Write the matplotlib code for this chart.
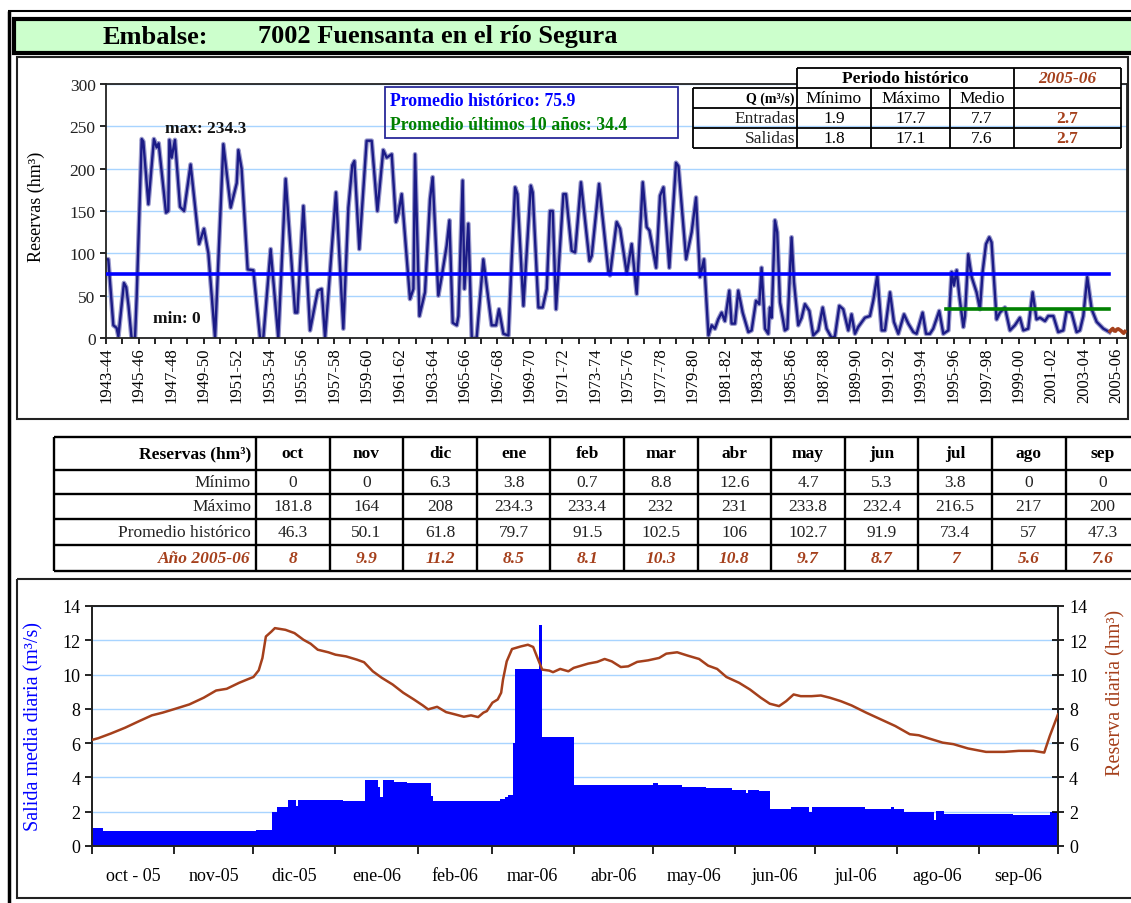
import numpy as np
import matplotlib
matplotlib.use("Agg")
import matplotlib.pyplot as plt
from matplotlib.patches import Rectangle
import matplotlib.patheffects as pe

plt.rcParams['font.family'] = ['Liberation Serif', 'DejaVu Serif']

# ---------------- data ----------------
title_prefix = "Embalse:"
title_name = "7002 Fuensanta en el río Segura"

hist_years = [1943.00, 1943.14, 1943.45, 1943.65, 1943.76, 1944.10, 1944.24, 1944.38, 1944.57, 1944.78,
              1944.88, 1945.19, 1945.29, 1945.60, 1945.94, 1946.11, 1946.23, 1946.68, 1946.82, 1946.89,
              1947.03, 1947.23, 1947.54, 1947.79, 1948.19, 1948.71, 1949.01, 1949.28, 1949.69, 1950.20,
              1950.65, 1951.02, 1951.12, 1951.32, 1951.69, 1952.04, 1952.45, 1952.65, 1953.10, 1953.57,
              1954.02, 1954.60, 1954.74, 1955.11, 1955.52, 1955.99, 1956.23, 1956.44, 1957.11, 1957.56,
              1957.87, 1958.11, 1958.24, 1958.54, 1958.99, 1959.30, 1959.65, 1960.01, 1960.22, 1960.53,
              1960.79, 1960.93, 1961.14, 1961.65, 1961.86, 1961.96, 1962.23, 1962.57, 1962.88, 1963.04,
              1963.39, 1963.60, 1963.90, 1964.07, 1964.27, 1964.52, 1964.62, 1964.88, 1964.99, 1965.23,
              1965.44, 1965.74, 1966.15, 1966.66, 1966.93, 1967.11, 1967.38, 1967.69, 1967.89, 1968.10,
              1968.24, 1968.61, 1969.06, 1969.18, 1969.53, 1969.79, 1970.04, 1970.24, 1970.41, 1970.61,
              1971.06, 1971.22, 1971.57, 1971.78, 1972.14, 1972.66, 1972.80, 1973.25, 1973.82, 1973.92,
              1974.33, 1974.54, 1974.95, 1975.25, 1975.56, 1975.93, 1976.17, 1976.34, 1976.75, 1976.99,
              1977.20, 1977.56, 1977.97, 1978.12, 1978.59, 1978.93, 1979.20, 1979.44, 1979.69, 1979.96,
              1980.16, 1980.36, 1980.56, 1980.77, 1980.97, 1981.24, 1981.38, 1981.59, 1981.79, 1982.06,
              1982.41, 1982.61, 1982.88, 1983.08, 1983.22, 1983.43, 1983.63, 1983.73, 1983.84, 1984.04,
              1984.18, 1984.35, 1984.65, 1984.80, 1985.06, 1985.21, 1985.47, 1985.68, 1985.88, 1986.15,
              1986.39, 1986.70, 1986.97, 1987.21, 1987.52, 1987.72, 1987.99, 1988.23, 1988.54, 1988.74,
              1988.95, 1989.15, 1989.56, 1989.87, 1990.07, 1990.32, 1990.59, 1990.79, 1991.10, 1991.34,
              1991.61, 1991.96, 1992.22, 1992.53, 1992.73, 1993.10, 1993.31, 1993.55, 1993.75, 1994.12,
              1994.37, 1994.68, 1994.88, 1995.02, 1995.19, 1995.35, 1995.60, 1995.70, 1995.90, 1996.11,
              1996.41, 1996.62, 1996.78, 1996.99, 1997.19, 1997.33, 1997.64, 1997.84, 1998.15, 1998.46,
              1998.76, 1999.07, 1999.28, 1999.58, 1999.85, 2000.09, 2000.30, 2000.61, 2000.81, 2001.12,
              2001.42, 2001.73, 2001.93, 2002.24, 2002.55, 2002.75, 2002.96, 2003.20, 2003.47, 2003.78,
              2004.19, 2004.56]
hist_reserves = [93, 93, 15, 12, 2, 65, 60, 38, 0, 0,
                 48, 235, 232, 158, 235, 225, 230, 148, 150, 234,
                 213, 234, 155, 150, 205, 111, 129, 100, 0, 229,
                 154, 183, 222, 200, 81, 80, 0, 0, 105, 0,
                 188, 30, 30, 156, 9, 56, 58, 0, 172, 11,
                 154, 204, 209, 105, 233, 233, 150, 222, 213, 217,
                 137, 146, 170, 46, 58, 217, 26, 54, 164, 190,
                 50, 73, 109, 139, 18, 15, 26, 186, 58, 135,
                 0, 0, 93, 15, 15, 34, 5, 3, 93, 178,
                 170, 38, 180, 172, 36, 36, 58, 150, 150, 34,
                 170, 170, 103, 101, 184, 91, 97, 182, 78, 74,
                 137, 129, 76, 111, 52, 184, 131, 127, 83, 168,
                 178, 83, 207, 203, 93, 125, 166, 72, 93, 3,
                 15, 11, 22, 30, 20, 56, 17, 17, 56, 30,
                 7, 9, 44, 40, 83, 11, 5, 36, 24, 139,
                 125, 42, 9, 11, 119, 66, 15, 24, 40, 32,
                 3, 9, 36, 11, 0, 2, 38, 34, 9, 28,
                 5, 13, 24, 26, 44, 74, 9, 9, 54, 19,
                 5, 28, 17, 7, 5, 30, 5, 5, 11, 32,
                 5, 9, 78, 62, 80, 50, 13, 26, 99, 72,
                 54, 34, 78, 111, 119, 113, 22, 30, 36, 9,
                 15, 24, 9, 11, 54, 22, 24, 20, 26, 26,
                 7, 9, 32, 30, 7, 9, 26, 72, 34, 19,
                 11, 7]
hist_mean = 75.9
last10_mean = 34.4
record_max = 234.3
record_min = 0
season_label = "2005-06"
season_monthly = [8, 9.9, 11.2, 8.5, 8.1, 10.3, 10.8, 9.7, 8.7, 7, 5.6, 7.6]
axis_years = list(range(1943, 2006))

flow_cols = ["Mínimo", "Máximo", "Medio"]
flow_rows = ["Entradas", "Salidas"]
flow_hist = [[1.9, 17.7, 7.7], [1.8, 17.1, 7.6]]
flow_season = [2.7, 2.7]

months = ["oct", "nov", "dic", "ene", "feb", "mar", "abr", "may", "jun", "jul", "ago", "sep"]
row_names = ["Mínimo", "Máximo", "Promedio histórico", "Año 2005-06"]
res_min = [0, 0, 6.3, 3.8, 0.7, 8.8, 12.6, 4.7, 5.3, 3.8, 0, 0]
res_max = [181.8, 164, 208, 234.3, 233.4, 232, 231, 233.8, 232.4, 216.5, 217, 200]
res_mean = [46.3, 50.1, 61.8, 79.7, 91.5, 102.5, 106, 102.7, 91.9, 73.4, 57, 47.3]
res_season = season_monthly

month_days = [31, 30, 31, 31, 28, 31, 30, 31, 30, 31, 31, 30]
month_labels = ["oct - 05", "nov-05", "dic-05", "ene-06", "feb-06", "mar-06",
                "abr-06", "may-06", "jun-06", "jul-06", "ago-06", "sep-06"]
outflow_run_start = [0, 4, 62, 68, 70, 74, 77, 78, 95, 103,
                     108, 109, 110, 114, 119, 128, 129, 154, 156, 157,
                     159, 160, 169, 170, 182, 212, 214, 223, 232, 242,
                     247, 248, 252, 256, 264, 271, 272, 292, 302, 303,
                     307, 318, 319, 322, 348, 362]
outflow_run_value = [1.05, 0.85, 0.95, 2.0, 2.3, 2.7, 2.35, 2.7, 2.62, 3.85,
                     3.45, 2.85, 3.85, 3.75, 3.65, 2.9, 2.62, 2.75, 2.85, 3.0,
                     6.0, 10.3, 12.9, 6.35, 3.58, 3.65, 3.58, 3.47, 3.38, 3.28,
                     3.1, 3.28, 3.2, 2.15, 2.25, 2.0, 2.25, 2.15, 2.25, 2.15,
                     2.0, 1.5, 2.02, 1.86, 1.8, 2.0]
reserve_day = [0, 2.4, 7.1, 12.5, 17.9, 22.6, 26.7, 31.4, 36.8, 42.2,
               46.9, 50.9, 55.6, 58.6, 61.0, 63.0, 64.4, 65.7, 67.8, 69.1,
               73.1, 76.5, 79.9, 82.6, 85.3, 89.3, 92, 96, 100.1, 102.8,
               106.1, 109.5, 113.6, 117.6, 121.6, 125, 127, 130.4, 133.8, 137.1,
               140.5, 143.2, 145.9, 147.9, 149.2, 151.3, 153.3, 154.6, 155.3, 156.7,
               158.7, 162, 164.7, 166.7, 168.1, 170.1, 172.8, 174.2, 176.9, 180,
               182, 187.5, 190.9, 193.7, 196.4, 199.8, 202.6, 206, 210.1, 214.3,
               217, 221.1, 225.2, 229.4, 232.8, 236.2, 239.7, 244.5, 248.6, 252.7,
               256.1, 259.6, 262.3, 265.1, 267.8, 271.9, 275.4, 278.8, 282.9, 287,
               292.5, 298, 303.5, 309, 312.4, 315.9, 321.4, 325.5, 331, 337.8,
               344.7, 350.2, 355.7, 359.8, 361.9, 365]
reserve_value = [6.19, 6.29, 6.56, 6.9, 7.29, 7.62, 7.78, 8.0, 8.26, 8.65,
                 9.07, 9.17, 9.52, 9.71, 9.86, 10.25, 10.97, 12.22, 12.51, 12.71,
                 12.61, 12.42, 12.03, 11.8, 11.45, 11.3, 11.16, 11.06, 10.87, 10.72,
                 10.19, 9.81, 9.42, 8.94, 8.55, 8.2, 7.97, 8.12, 7.81, 7.68,
                 7.54, 7.62, 7.52, 7.78, 7.87, 8.36, 8.55, 8.94, 9.71, 10.77,
                 11.49, 11.64, 11.74, 11.61, 11.06, 10.29, 10.23, 10.14, 10.33, 10.19,
                 10.39, 10.64, 10.74, 10.91, 10.77, 10.44, 10.48, 10.74, 10.83, 10.97,
                 11.22, 11.3, 11.1, 10.91, 10.52, 10.33, 9.86, 9.52, 9.13, 8.65,
                 8.3, 8.16, 8.45, 8.84, 8.74, 8.74, 8.78, 8.65, 8.45, 8.2,
                 7.78, 7.39, 7.0, 6.52, 6.46, 6.29, 6.03, 5.94, 5.69, 5.49,
                 5.49, 5.55, 5.55, 5.45, 6.42, 7.68]

# ---------------- style ----------------
NAVY = '#1b1b86'
BLUE = '#0000ff'
GREEN = '#008000'
BROWN = '#a5401c'
GRID = '#a8d4ff'
FS = 12.5

W, H = 1131, 904
fig = plt.figure(figsize=(W / 100, H / 100), dpi=100)
fig.patch.set_facecolor('white')


def add_ax(l, t, r, b, **kw):
    return fig.add_axes([l / W, 1 - b / H, (r - l) / W, (b - t) / H], **kw)


def fmt(v):
    return f"{v:g}"


# ---------------- top chart ----------------
ax1 = add_ax(106, 85, 1127, 339)
ax1.plot(hist_years, hist_reserves, color=NAVY, lw=1.7, zorder=2,
         path_effects=[pe.Stroke(linewidth=3.4, foreground='#9a9acc'), pe.Normal()])
ax1.plot([hist_years[0], hist_years[-1]], [hist_mean, hist_mean], color=BLUE, lw=2.6, zorder=3)
ax1.plot([hist_years[-1] - 10, hist_years[-1]], [last10_mean, last10_mean], color=GREEN, lw=2.6, zorder=3)
season_x = hist_years[-1] + (np.arange(len(season_monthly)) + 0.5) / len(season_monthly)
ax1.plot(season_x, season_monthly, color=BROWN, lw=2.6, zorder=3)

ax1.set_xlim(axis_years[0], 2005.64)
ax1.set_ylim(0, 300)
ax1.set_yticks(np.arange(0, 301, 50))
ax1.yaxis.grid(True, color=GRID, lw=1.0)
ax1.set_axisbelow(True)
major_years = axis_years[::2]
ax1.set_xticks(major_years)
ax1.set_xticklabels([f"{y}-{(y + 1) % 100:02d}" for y in major_years], rotation=90, fontsize=12)
ax1.set_xticks(axis_years, minor=True)
ax1.tick_params(axis='x', which='both', direction='out', length=4.5, width=1.2, pad=1.5)
ax1.tick_params(axis='y', direction='out', length=4, width=1.2, labelsize=FS, labelcolor='#222')
for s in ax1.spines.values():
    s.set_color('#222')
    s.set_linewidth(1.3)
ax1.set_ylabel("Reservas (hm³)", fontsize=13)
ax1.yaxis.set_label_coords(-0.06, 0.52)

# ---------------- bottom chart ----------------
ax2 = add_ax(92, 607, 1058, 847)
lengths = np.diff(outflow_run_start + [sum(month_days)])
daily_outflow = np.repeat(outflow_run_value, lengths)
days = np.arange(len(daily_outflow))
ax2.bar(days + 0.5, daily_outflow, width=1.0, color=BLUE, lw=0, zorder=2)
ax2.set_xlim(0, sum(month_days))
ax2.set_ylim(0, 14)
ax2.set_yticks(np.arange(0, 15, 2))
ax2.yaxis.grid(True, color=GRID, lw=1.0, zorder=0)
ax2.set_axisbelow(True)
bounds = np.concatenate([[0], np.cumsum(month_days)])
mids = (bounds[:-1] + bounds[1:]) / 2
ax2.set_xticks(bounds)
ax2.set_xticklabels([''] * len(bounds))
ax2.set_xticks(mids, minor=True)
ax2.set_xticklabels(month_labels, minor=True, fontsize=13)
ax2.tick_params(axis='x', which='major', direction='out', length=6, width=1.2)
ax2.tick_params(axis='x', which='minor', length=0, pad=15)
ax2.tick_params(axis='y', direction='out', length=5, width=1.2, labelsize=13)
for s in ax2.spines.values():
    s.set_color('#222')
    s.set_linewidth(1.3)
ax2.set_ylabel("Salida media diaria (m³/s)", color=BLUE, fontsize=14.5)
ax2.yaxis.set_label_coords(-0.05, 0.5)

ax3 = ax2.twinx()
ax3.plot(reserve_day, reserve_value, color=BROWN, lw=1.8, zorder=3)
ax3.set_ylim(0, 14)
ax3.set_yticks(np.arange(0, 15, 2))
ax3.tick_params(axis='y', direction='inout', length=9, width=1.2, labelsize=13)
for s in ax3.spines.values():
    s.set_color('#222')
    s.set_linewidth(1.3)
ax3.set_ylabel("Reserva diaria (hm³)", color=BROWN, fontsize=14.5, rotation=90)
ax3.yaxis.set_label_coords(1.05, 0.64)

# ---------------- overlay (frames, title, tables) ----------------
ov = add_ax(0, 0, W, H, zorder=10)
ov.set_xlim(0, W)
ov.set_ylim(H, 0)
ov.axis('off')


def hline(y, x0, x1, lw=1.3, c='k'):
    ov.plot([x0, x1], [y, y], color=c, lw=lw, solid_capstyle='butt')


def vline(x, y0, y1, lw=1.3, c='k'):
    ov.plot([x, x], [y0, y1], color=c, lw=lw, solid_capstyle='butt')


# page frame
vline(9, 12, H + 2, lw=2.5)
hline(12, 8, W + 2, lw=1.5)
# title bar
ov.add_patch(Rectangle((14, 20), W, 34, fc='#ccffcc', ec='k', lw=3))
ov.text(103, 37, title_prefix, fontsize=19, fontweight='bold', va='center', ha='left')
ov.text(258, 37, title_name, fontsize=19, fontweight='bold', va='center', ha='left')
# panel frames
ov.add_patch(Rectangle((17, 58), 1111, 362, fill=False, ec='#222', lw=1.5))
ov.add_patch(Rectangle((17, 580), W, 319, fill=False, ec='#222', lw=1.5))

# max / min annotations
ov.text(165, 129, f"max: {record_max:g}", fontsize=12.5, fontweight='bold', va='center',
        ha='left', color='#111')
ov.text(153, 319, f"min: {record_min:g}", fontsize=12.5, fontweight='bold', va='center',
        ha='left', color='#111')

# averages box
ov.add_patch(Rectangle((385, 88), 293, 51, fill=False, ec='#2a2a9a', lw=1.3))
ov.text(390, 101, f"Promedio histórico: {hist_mean:g}", fontsize=12.8, fontweight='bold',
        color=BLUE, va='center', ha='left')
ov.text(390, 126, f"Promedio últimos 10 años: {last10_mean:g}", fontsize=12.8, fontweight='bold',
        color=GREEN, va='center', ha='left')

# flow table (top right)
fx = [693, 797, 871, 950, 1014, 1121]
fy = [69, 89, 109, 129, 149]
ov.add_patch(Rectangle((fx[1], fy[0]), fx[5] - fx[1], fy[1] - fy[0], fc='white', ec='none', zorder=1))
hline(fy[0], fx[1], fx[5])
for y in fy[1:]:
    hline(y, fx[0], fx[5])
for x in (fx[1], fx[4], fx[5]):
    vline(x, fy[0], fy[1])
for x in fx:
    vline(x, fy[1], fy[4])
ov.text((fx[1] + fx[4]) / 2, (fy[0] + fy[1]) / 2, "Periodo histórico", fontsize=12.5,
        fontweight='bold', ha='center', va='center', zorder=3)
ov.text((fx[4] + fx[5]) / 2, (fy[0] + fy[1]) / 2, season_label, fontsize=12.5, fontweight='bold',
        fontstyle='italic', color=BROWN, ha='center', va='center', zorder=3)
ov.text(fx[1] - 2, (fy[1] + fy[2]) / 2, "Q (m³/s)", fontsize=10, fontweight='bold',
        ha='right', va='center')
for j, name in enumerate(flow_cols):
    ov.text((fx[j + 1] + fx[j + 2]) / 2, (fy[1] + fy[2]) / 2, name, fontsize=12.5,
            ha='center', va='center')
for i, name in enumerate(flow_rows):
    yc = (fy[i + 2] + fy[i + 3]) / 2
    ov.text(fx[1] - 2, yc, name, fontsize=12.5, ha='right', va='center', color='#222')
    for j, v in enumerate(flow_hist[i]):
        ov.text((fx[j + 1] + fx[j + 2]) / 2, yc, fmt(v), fontsize=12.5, ha='center', va='center')
    ov.text((fx[4] + fx[5]) / 2, yc, fmt(flow_season[i]), fontsize=12.5, fontweight='bold',
            color=BROWN, ha='center', va='center')

# monthly reserves table
tx = [54] + [256 + 73.6 * i for i in range(13)]
ty = [438, 471, 495, 520, 546, 572]
for y in ty:
    hline(y, tx[0], tx[-1], lw=1.7)
for x in tx:
    vline(x, ty[0], ty[-1], lw=1.7)
ov.text(tx[1] - 5, (ty[0] + ty[1]) / 2, "Reservas (hm³)", fontsize=12.5, fontweight='bold',
        ha='right', va='center')
for j, m in enumerate(months):
    ov.text((tx[j + 1] + tx[j + 2]) / 2, (ty[0] + ty[1]) / 2, m, fontsize=12.5,
            fontweight='bold', ha='center', va='center')
table_rows = [res_min, res_max, res_mean, res_season]
for i, (name, vals) in enumerate(zip(row_names, table_rows)):
    yc = (ty[i + 1] + ty[i + 2]) / 2
    last = i == len(table_rows) - 1
    kw = dict(fontweight='bold', fontstyle='italic', color=BROWN) if last else dict(color='#222')
    ov.text(tx[1] - 5, yc, name, fontsize=12.5, ha='right', va='center', **kw)
    for j, v in enumerate(vals):
        ov.text((tx[j + 1] + tx[j + 2]) / 2, yc, fmt(v), fontsize=12.5, ha='center',
                va='center', **kw)

fig.savefig("out.png", dpi=100)
